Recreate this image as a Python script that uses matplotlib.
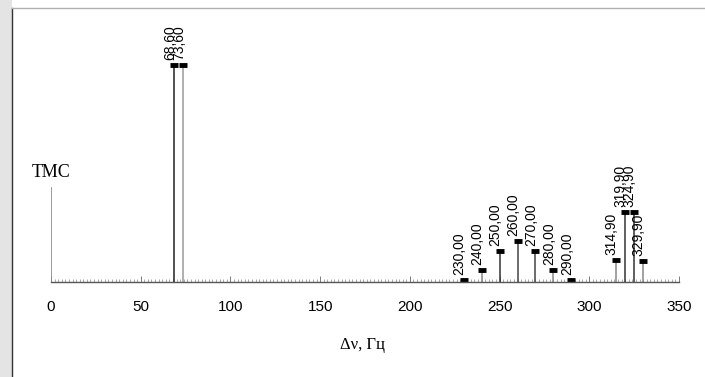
import matplotlib
matplotlib.use("Agg")
import matplotlib.pyplot as plt
import numpy as np
from matplotlib.ticker import MultipleLocator

# Data
tms_shift = 0.0
tms_height = 43.8
shifts = [68.60, 73.60, 230.00, 240.00, 250.00, 260.00, 270.00, 280.00, 290.00,
          314.90, 319.90, 324.90, 329.90]
heights = [100.0, 100.0, 1.0, 5.5, 14.3, 18.9, 14.3, 5.5, 1.0,
           10.1, 32.3, 32.3, 9.7]
labels = ["68,60", "73,60", "230,00", "240,00", "250,00", "260,00", "270,00",
          "280,00", "290,00", "314,90", "319,90", "324,90", "329,90"]
stem_colors = ["#222222", "#9a9a9a", "#555555", "#888888", "#333333", "#444444",
               "#444444", "#888888", "#666666", "#888888", "#333333", "#333333",
               "#888888"]
xticks = [0, 50, 100, 150, 200, 250, 300, 350]

fig = plt.figure(figsize=(7.05, 3.77), dpi=100)
fig.patch.set_facecolor("white")

# scanned-page frame
fig.patches.append(plt.Rectangle((0, 0), 12 / 705, 1, transform=fig.transFigure,
                                 facecolor="#e4e4e4", edgecolor="none", zorder=0))
fig.add_artist(plt.Line2D([12 / 705, 12 / 705], [0, 1 - 8 / 377], color="#333333",
                          lw=1.0, transform=fig.transFigure))
fig.add_artist(plt.Line2D([12 / 705, 1], [1 - 8 / 377, 1 - 8 / 377], color="#b0b0b0",
                          lw=1.0, transform=fig.transFigure))

ax = fig.add_axes([51 / 705, 95 / 377, 628 / 705, 270 / 377])
ax.set_xlim(0, 350)
ax.set_ylim(0, 124.4)
for s in ["left", "right", "top"]:
    ax.spines[s].set_visible(False)
ax.spines["bottom"].set_linewidth(1.0)
ax.spines["bottom"].set_color("#555555")
ax.set_yticks([])
ax.set_xticks(xticks)
ax.set_xticklabels([str(t) for t in xticks], family="Liberation Sans", fontsize=11)
ax.xaxis.set_minor_locator(MultipleLocator(2))
ax.tick_params(axis="x", which="major", direction="in", length=4, width=0.6,
               color="#666666", pad=13)
ax.tick_params(axis="x", which="minor", direction="in", length=2.5, width=0.5,
               color="#888888")

# TMS reference line
ax.vlines(tms_shift, 0, tms_height, color="#8a8a8a", lw=1.2)
fig.text(51 / 705, 1 - 172 / 377, "ТМС", family="Liberation Serif", fontsize=13,
         ha="center", va="center")

# peaks
for x, h, lab, c in zip(shifts, heights, labels, stem_colors):
    ax.vlines(x, 0, h, color=c, lw=1.1)
    ax.plot([x], [h], marker="_", markersize=6, markeredgewidth=3.5, color="black")
    ax.annotate(lab, (x, h), xytext=(-3, 3.5), textcoords="offset points",
                rotation=90, ha="center", va="bottom", family="Liberation Sans",
                fontsize=10)

fig.text(363 / 705, 1 - 345 / 377, "Δν, Гц", family="Liberation Serif", fontsize=12,
         ha="center", va="center")

fig.savefig("out.png", dpi=100)
